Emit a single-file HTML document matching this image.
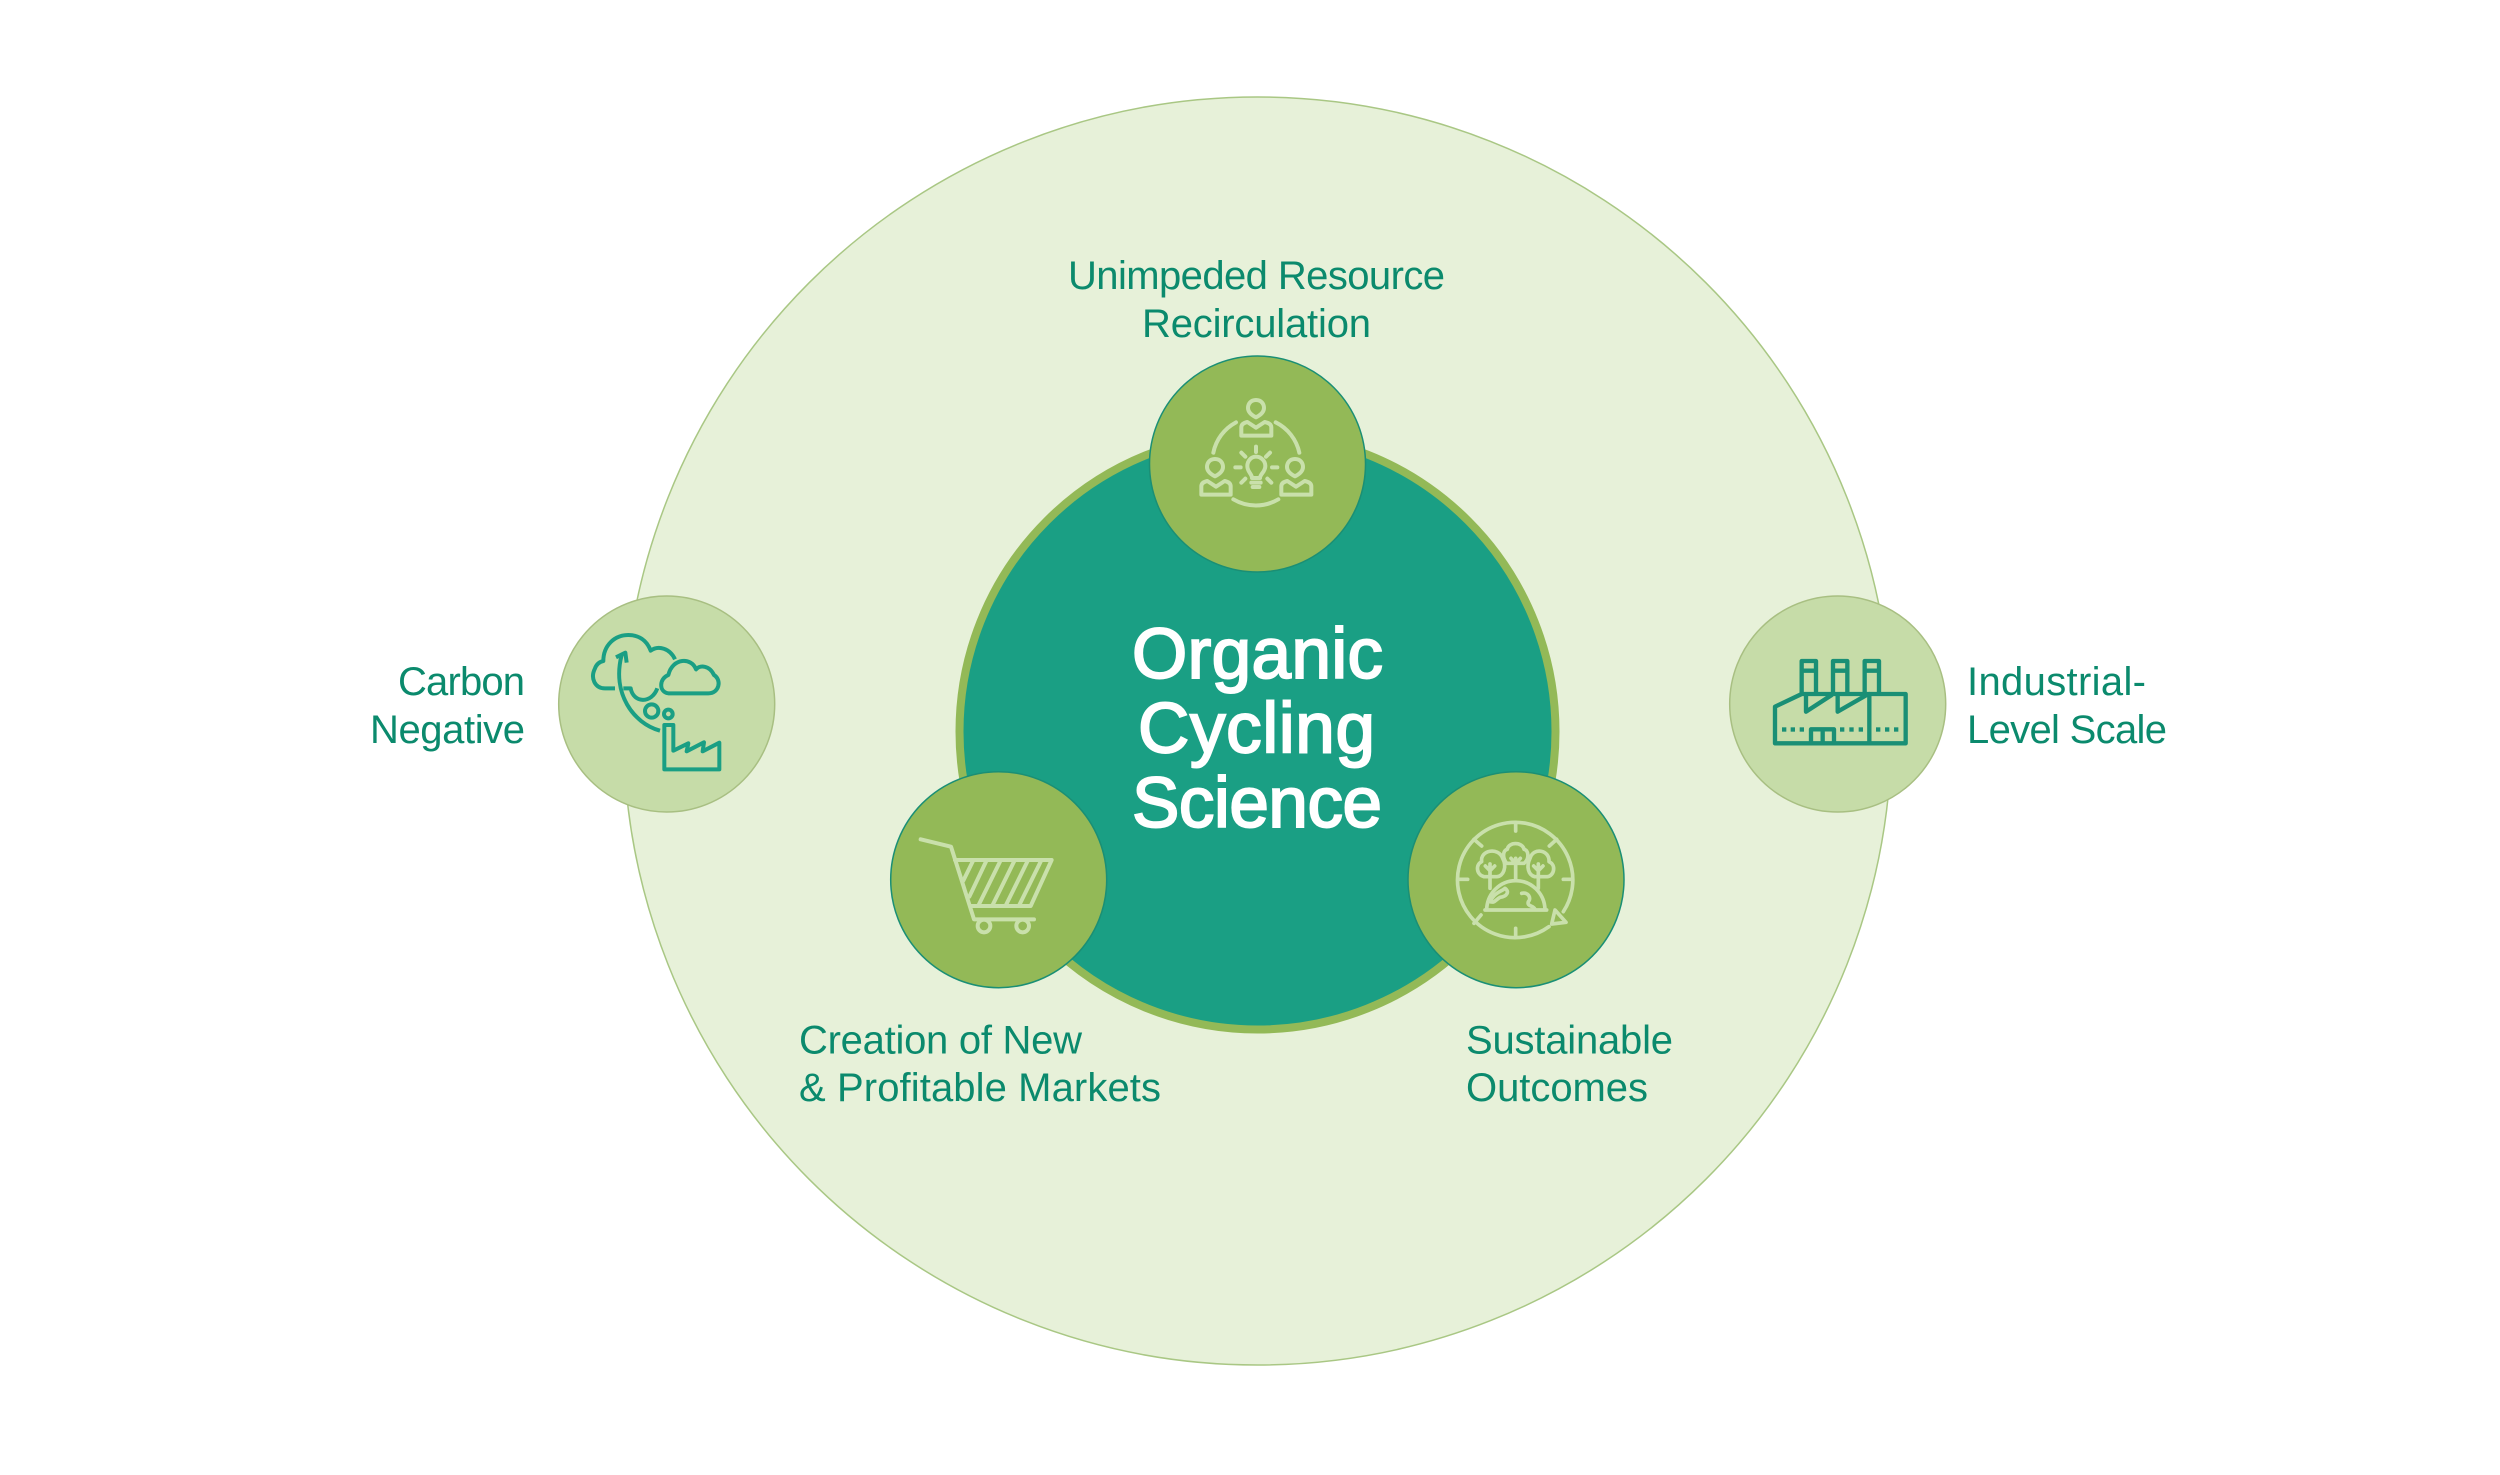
<!DOCTYPE html>
<html><head><meta charset="utf-8"><style>
html,body{margin:0;padding:0;background:#fff;width:2500px;height:1475px;overflow:hidden}
svg{display:block}
text{font-family:"Liberation Sans",sans-serif}
.l{font-size:40px;fill:#0b8a6d}
.t{font-size:71px;fill:#fff;stroke:#fff;stroke-width:2}
.ic{fill:none;stroke-linecap:round;stroke-linejoin:round}
</style></head><body>
<svg width="2500" height="1475" viewBox="0 0 2500 1475" xmlns="http://www.w3.org/2000/svg">
<rect width="2500" height="1475" fill="#fff"/>
<circle cx="1257.5" cy="731" r="634" fill="#e7f1d9" stroke="#a9c784" stroke-width="1.5"/>
<circle cx="1257.5" cy="731.5" r="298" fill="#1a9f84" stroke="#93b957" stroke-width="8"/>
<circle cx="1257.5" cy="464" r="108" fill="#93b957" stroke="#1a8f75" stroke-width="1.5"/>
<circle cx="998.7" cy="879.7" r="108" fill="#93b957" stroke="#1a8f75" stroke-width="1.5"/>
<circle cx="1516" cy="879.7" r="108" fill="#93b957" stroke="#1a8f75" stroke-width="1.5"/>
<circle cx="666.7" cy="704" r="108" fill="#c6dca8" stroke="#a8bf82" stroke-width="1.5"/>
<circle cx="1837.7" cy="704" r="108" fill="#c6dca8" stroke="#a8bf82" stroke-width="1.5"/>

<text class="t" x="1132" y="678" textLength="251" lengthAdjust="spacing">Organic</text>
<text class="t" x="1138" y="752.5" textLength="237" lengthAdjust="spacing">Cycling</text>
<text class="t" x="1132" y="827" textLength="250" lengthAdjust="spacing">Science</text>

<text class="l" x="1068" y="289" textLength="377" lengthAdjust="spacing">Unimpeded Resource</text>
<text class="l" x="1142" y="337" textLength="229" lengthAdjust="spacing">Recirculation</text>
<text class="l" x="398" y="695" textLength="127" lengthAdjust="spacing">Carbon</text>
<text class="l" x="370" y="743" textLength="155" lengthAdjust="spacing">Negative</text>
<text class="l" x="1967" y="695" textLength="179" lengthAdjust="spacing">Industrial-</text>
<text class="l" x="1967" y="743" textLength="200" lengthAdjust="spacing">Level Scale</text>
<text class="l" x="799" y="1053.5" textLength="283" lengthAdjust="spacing">Creation of New</text>
<text class="l" x="799" y="1101" textLength="362" lengthAdjust="spacing">&amp; Profitable Markets</text>
<text class="l" x="1466" y="1053.5" textLength="207" lengthAdjust="spacing">Sustainable</text>
<text class="l" x="1466" y="1101" textLength="182" lengthAdjust="spacing">Outcomes</text>

<!-- people icon -->
<g transform="translate(1100,230) scale(.33333)" class="ic" stroke="#c9e0ab" stroke-width="12">
<path d="M468,510 C452,510 444,522 444,534 C444,546 456,556 468,562 C480,556 492,546 492,534 C492,522 484,510 468,510 Z"/>
<path d="M424,617 V592 Q424,580 442,576 L468,593 L494,576 Q514,580 514,592 V617 Z"/>
<path d="M345,687 C329,687 321,699 321,711 C321,723 333,733 345,739 C357,733 369,723 369,711 C369,699 361,687 345,687 Z"/>
<path d="M304,794 V769 Q304,757 322,753 L348,770 L374,753 Q392,757 392,769 V794 Z"/>
<path d="M585,687 C569,687 561,699 561,711 C561,723 573,733 585,739 C597,733 609,723 609,711 C609,699 601,687 585,687 Z"/>
<path d="M544,794 V769 Q544,757 562,753 L588,770 L614,753 Q634,757 634,769 V794 Z"/>
<path d="M408,577 A133,133 0 0 0 340,668"/>
<path d="M527,577 A133,133 0 0 1 598,668"/>
<path d="M400,808 A133,133 0 0 0 535,808"/>
<path d="M456,744 C456,732 442,726 442,708 C442,692 454,680 468,680 C482,680 496,692 496,708 C496,726 480,732 480,744 Z"/>
<path d="M454,758 H482 M458,771 H478"/>
<path d="M468,650 V666 M424,668 L436,680 M510,668 L498,680 M406,712 H422 M516,712 H532 M424,758 L436,746 M514,758 L502,746"/>
</g>

<!-- carbon icon -->
<g transform="translate(540,580) scale(.33333)" class="ic" stroke="#1a9f84" stroke-width="12" style="stroke-linecap:butt">
<path d="M225,325 H195 C165,325 150,295 165,265 C170,252 180,245 190,243 C190,195 225,165 265,165 C295,165 320,180 332,212 C355,195 390,205 405,238"/>
<path d="M250,325 H272 C280,370 335,372 352,325"/>
<path d="M385,340 H505 C538,340 546,300 522,285 C508,255 480,255 468,268 C455,232 398,232 385,285 C358,295 355,335 385,340 Z"/>
<path d="M360,452 C280,430 215,340 245,225"/>
<path d="M228,232 L256,218 L260,248"/>
<circle cx="335" cy="393" r="20"/>
<circle cx="385" cy="402" r="13"/>
<path d="M373,568 V435 H400 V512 L445,490 L440,514 L492,487 L488,514 L538,488 V568 Z"/>
</g>

<!-- factory icon -->
<g transform="translate(1710,580) scale(.33333)" class="ic" stroke="#1a8f75" stroke-width="13">
<path d="M275,340 V243 H318 V340 M275,272 H318"/>
<path d="M369,340 V243 H412 V340 M369,272 H412"/>
<path d="M464,340 V243 H507 V340 M464,272 H507"/>
<path d="M195,380 L275,342 H587 V490 H195 Z"/>
<path d="M478,342 V490"/>
<path d="M288,345 V395 L365,345 M383,345 V395 L470,345"/>
<path d="M303,490 V448 H372 V490 M338,448 V490"/>
<g fill="#1a8f75" stroke="none">
<rect x="216" y="442" width="13" height="13"/><rect x="242" y="442" width="13" height="13"/><rect x="269" y="442" width="13" height="13"/>
<rect x="390" y="442" width="13" height="13"/><rect x="418" y="442" width="13" height="13"/><rect x="446" y="442" width="13" height="13"/>
<rect x="498" y="442" width="13" height="13"/><rect x="525" y="442" width="13" height="13"/><rect x="552" y="442" width="13" height="13"/>
</g>
</g>

<!-- cart icon -->
<g transform="translate(880,760) scale(.33333)" class="ic" stroke="#c9e0ab" stroke-width="12">
<path d="M122,238 L213,260 L282,478 H462"/>
<path d="M225,300 H515 L452,438 H270"/>
<path d="M278,305 L250,362 M318,305 L268,410 M360,305 L295,437 M402,305 L337,437 M442,305 L377,437 M482,305 L417,437"/>
<circle cx="312" cy="498" r="19"/>
<circle cx="428" cy="498" r="19"/>
</g>

<!-- globe icon -->
<g transform="translate(1400,760) scale(.33333)" class="ic" stroke="#c9e0ab" stroke-width="11">
<path d="M447,500 A173,173 0 1 1 490,455"/>
<path d="M465,450 L498,487 L455,492 Z"/>
<path d="M347,187 V213 M347,505 V530 M175,358 H203 M490,358 H518 M222,238 L245,258 M470,238 L448,258 M222,490 L243,465"/>
<path d="M255,450 H440"/>
<path d="M260,448 C262,400 300,362 347,362 C395,362 433,400 435,448"/>
<path d="M270,425 C285,395 305,395 315,385 C330,395 320,410 300,412 C285,420 285,430 270,425"/>
<path d="M365,400 C385,395 395,415 385,425 C380,440 400,435 405,448"/>
<path d="M320,310 C305,290 310,270 322,268 C325,245 368,245 372,268 C385,270 390,295 372,310 Z"/>
<path d="M252,350 C230,345 225,315 245,305 C240,270 295,260 308,295 C322,320 310,350 290,350 Z"/>
<path d="M404,350 C385,345 378,320 390,295 C400,260 450,270 447,305 C470,315 462,348 442,350 Z"/>
<path d="M347,295 V360 M333,295 L347,310 M361,295 L347,310"/>
<path d="M270,312 V385 M256,318 L270,332 M284,318 L270,332"/>
<path d="M415,312 V385 M401,318 L415,332 M429,318 L415,332"/>
</g>
</svg>
</body></html>
